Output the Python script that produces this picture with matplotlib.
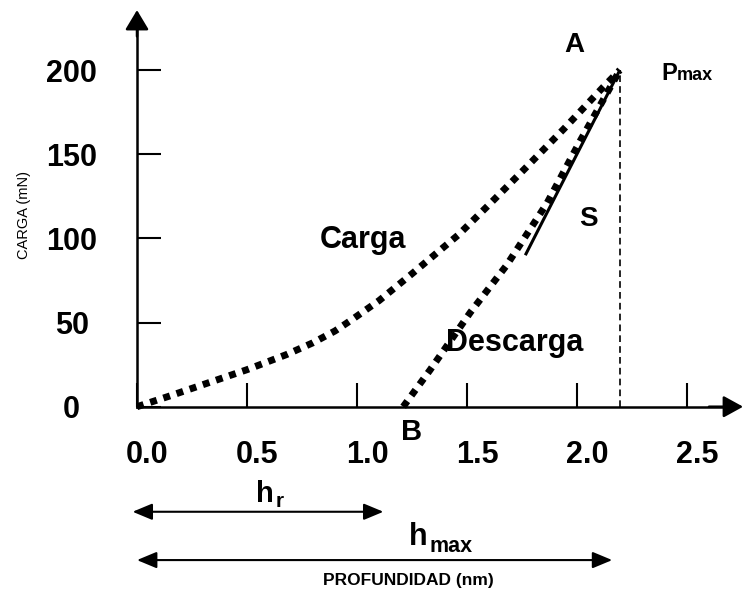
import matplotlib
matplotlib.use("Agg")
import matplotlib.pyplot as plt
from matplotlib import font_manager
from matplotlib.transforms import ScaledTranslation


def pick_font(*names):
    have = {f.name for f in font_manager.fontManager.ttflist}
    for n in names:
        if n in have:
            return n
    return "DejaVu Sans"


MAIN = pick_font("Liberation Sans", "Arial")
NARROW = pick_font("Liberation Sans Narrow", "DejaVu Sans Condensed", "Liberation Sans")

# curve readings: depth (nm) and load (mN)
load_depth = [0.0, 0.14, 0.32, 0.50, 0.68, 0.80, 0.90, 0.98, 1.10, 1.25, 1.46, 1.60, 1.76, 1.94, 2.12, 2.195]
load_force = [0, 6, 14, 22, 31, 38, 45, 52, 63, 79, 102, 120, 141, 165, 190, 200]

unload_depth = [1.21, 1.333, 1.515, 1.68, 1.864, 2.015, 2.135, 2.195]
unload_force = [0, 22, 56, 84, 121, 158, 186, 200]

slope_depth = [1.765, 2.195]
slope_force = [90, 200]

x_ticks = [0.0, 0.5, 1.0, 1.5, 2.0, 2.5]
x_labels = ["0.0", "0.5", "1.0", "1.5", "2.0", "2.5"]
y_ticks = [0, 50, 100, 150, 200]
y_labels = ["0", "50", "100", "150", "200"]

hr_span = [-0.02, 1.12]
hmax_span = [0.0, 2.16]

h_max = load_depth[-1]
p_max = load_force[-1]

fig = plt.figure(figsize=(7.43, 5.93), dpi=100)
ax = fig.add_axes([0, 0, 1, 1])
ax.set_xlim(-0.6227, 2.7545)
ax.set_ylim(-110.66, 241.6)

# axes through the origin
for s in ["top", "right"]:
    ax.spines[s].set_visible(False)
ax.spines["left"].set_position(("data", 0))
ax.spines["bottom"].set_position(("data", 0))
ax.spines["left"].set_bounds(0, 228)
ax.spines["bottom"].set_bounds(0, 2.70)
ax.spines["left"].set_linewidth(1.8)
ax.spines["bottom"].set_linewidth(1.8)

ax.annotate("", xy=(0, 235.6), xytext=(0, 220),
            arrowprops=dict(arrowstyle="-|>,head_length=0.6,head_width=0.36",
                            mutation_scale=20, color="black", lw=1.8,
                            shrinkA=0, shrinkB=0))
ax.annotate("", xy=(2.755, 0), xytext=(2.6, 0),
            arrowprops=dict(arrowstyle="-|>,head_length=0.6,head_width=0.33",
                            mutation_scale=20, color="black", lw=1.8,
                            shrinkA=0, shrinkB=0))

ax.set_xticks(x_ticks, x_labels)
ax.set_yticks(y_ticks, y_labels)
ax.tick_params(direction="in", length=17, width=1.5, labelsize=22)
ax.tick_params(axis="x", pad=24)
ax.tick_params(axis="y", pad=47)
shift = ScaledTranslation(10 / 100, 0, fig.dpi_scale_trans)
for lbl in ax.get_xticklabels():
    lbl.set_fontfamily(MAIN)
    lbl.set_fontweight("bold")
    lbl.set_transform(lbl.get_transform() + shift)
for lbl in ax.get_yticklabels():
    lbl.set_fontfamily(MAIN)
    lbl.set_fontweight("bold")
    lbl.set_horizontalalignment("center")

# curves
ax.plot(load_depth, load_force, color="black", lw=5, linestyle=(0, (1, 1)))
ax.plot(unload_depth, unload_force, color="black", lw=5, linestyle=(0, (1, 1)))
ax.plot(slope_depth, slope_force, color="black", lw=2.2, solid_capstyle="butt")
ax.plot([h_max, h_max], [0, p_max], color="black", lw=1.2, linestyle=(0, (4, 2.5)))

bold = dict(fontfamily=MAIN, fontweight="bold", color="black")
ax.text(1.027, 99, "Carga", fontsize=22, ha="center", va="center", **bold)
ax.text(1.718, 37.8, "Descarga", fontsize=22, ha="center", va="center", **bold)
ax.text(1.986, 215, "A", fontsize=20, ha="center", va="center", **bold)
ax.text(1.25, -15, "B", fontsize=21, ha="center", va="center", **bold)
ax.text(2.05, 111.5, "S", fontsize=20, ha="center", va="center", **bold)
ax.text(2.384, 194, "P", fontsize=17, ha="left", va="baseline", **bold)
ax.text(2.455, 194, "max", fontsize=13, ha="left", va="baseline", **bold)

ax.text(-0.514, 113.9, "CARGA (mN)", fontsize=10.5, rotation=90,
        ha="center", va="center", fontfamily=MAIN, color="black")

# depth dimensions
narrow = dict(fontfamily=NARROW, fontweight="bold", color="black")
ax.text(0.540, -56.4, "h", fontsize=21, ha="left", va="baseline", **narrow)
ax.text(0.632, -59.4, "r", fontsize=15, ha="left", va="baseline", **narrow)
ax.annotate("", xy=(hr_span[0], -62.4), xytext=(hr_span[1], -62.4),
            arrowprops=dict(arrowstyle="<|-|>,head_length=0.6,head_width=0.25",
                            mutation_scale=20, color="black", lw=1.5,
                            shrinkA=0, shrinkB=0))

ax.text(1.235, -82.1, "h", fontsize=22, ha="left", va="baseline", **narrow)
ax.text(1.330, -86.3, "max", fontsize=15.5, ha="left", va="baseline", **narrow)
ax.annotate("", xy=(hmax_span[0], -91.1), xytext=(hmax_span[1], -91.1),
            arrowprops=dict(arrowstyle="<|-|>,head_length=0.6,head_width=0.25",
                            mutation_scale=20, color="black", lw=1.5,
                            shrinkA=0, shrinkB=0))
ax.text(1.232, -103, "PROFUNDIDAD (nm)", fontsize=12.5, ha="center", va="center", **narrow)

fig.savefig("out.png", dpi=100)
